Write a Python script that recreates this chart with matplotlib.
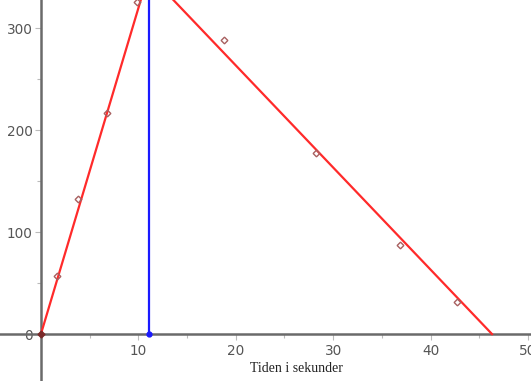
import matplotlib.pyplot as plt
import numpy as np

# measured points (time in s, value)
t_meas = [1.6, 3.8, 6.8, 9.85, 18.8, 28.2, 36.9, 42.7]
y_meas = [57, 132, 217, 326, 288, 178, 87, 31]

# fitted broken line: rise, peak, fall
t_line = [0, 11.05, 46.3]
y_line = [0, 353, 0]

# vertical marker at peak time
t_peak = 11.05

xticks = [10, 20, 30, 40, 50]
yticks = [0, 100, 200, 300]

fig = plt.figure(figsize=(5.31, 3.81), dpi=100)
ax = fig.add_axes([0, 0, 1, 1])
ax.set_xlim(-4.2, 50.3)
ax.set_ylim(-46, 327.5)

ax.plot(t_line, y_line, color='#ff2a2a', lw=1.6, zorder=3)
ax.plot([t_peak, t_peak], [0, max(y_line)], color='#1a1aff', lw=1.6, zorder=3)
ax.plot([t_peak], [0], 'o', color='#1a1aff', ms=3.5, zorder=4)
ax.plot([0], [0], 'D', color='#7a2a2a', ms=3.5, zorder=4)
ax.plot(t_meas, y_meas, 'D', mfc='none', mec='#a86060', ms=3.4, mew=1.0, zorder=4)

# axes through origin, Maple style
for s in ['top', 'right']:
    ax.spines[s].set_visible(False)
ax.spines['left'].set_position(('data', 0))
ax.spines['bottom'].set_position(('data', 0))
for s in ['left', 'bottom']:
    ax.spines[s].set_color('#6a6a6a')
    ax.spines[s].set_linewidth(1.8)
    ax.spines[s].set_zorder(2)

ax.set_xticks(xticks)
ax.set_yticks(yticks)
ax.set_xticks(np.arange(5, 51, 10), minor=True)
ax.set_yticks([50, 150, 250], minor=True)
ax.tick_params(which='both', direction='out', color='#bbbbbb', width=0.8,
               labelcolor='#555555', labelsize=9.8)
ax.tick_params(which='major', length=4)
ax.tick_params(axis='x', which='major', pad=3)
ax.tick_params(axis='y', which='major', pad=2)
ax.tick_params(which='minor', length=3)

ax.text(26.2, -34, 'Tiden i sekunder', family='Liberation Serif',
        fontsize=10, ha='center', va='center', color='#222222')

fig.savefig('out.png', dpi=100)
